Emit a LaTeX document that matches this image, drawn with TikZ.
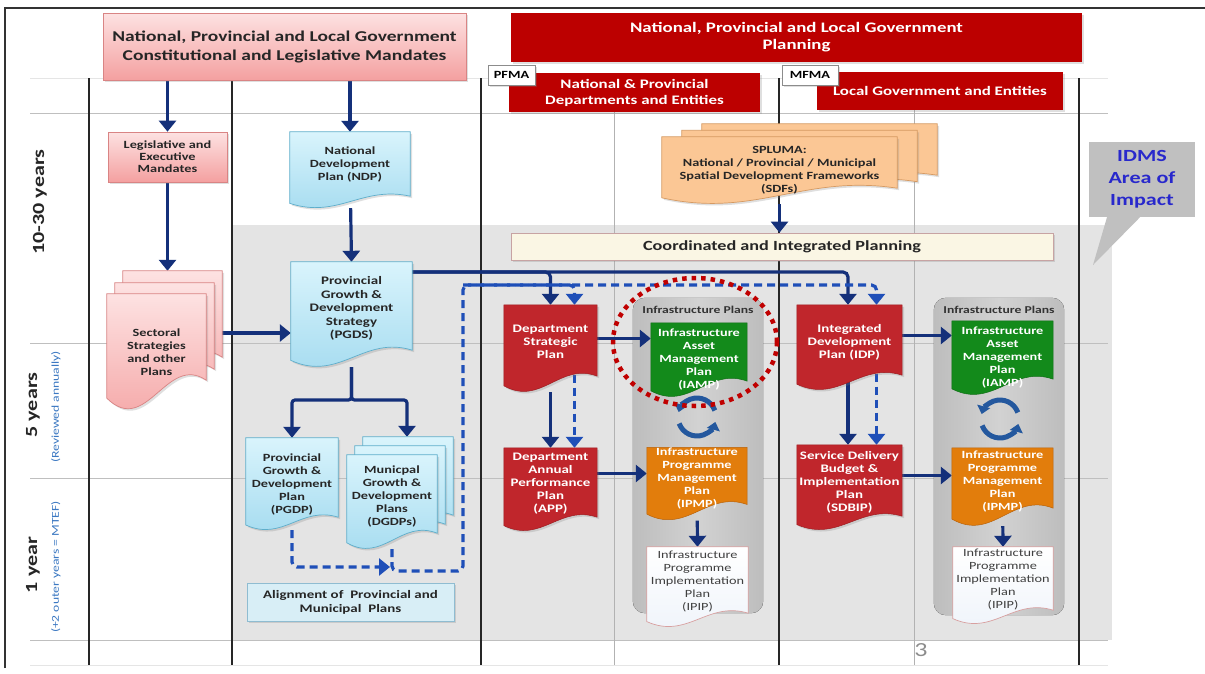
\documentclass[tikz,border=0pt]{standalone}
\usepackage{fontspec}
\setmainfont{Carlito}[FakeStretch=1.3]
\usetikzlibrary{arrows.meta,calc,shadows,shapes.geometric}
\pgfdeclarelayer{back}
\pgfdeclarelayer{mid}
\pgfsetlayers{back,mid,main}
\definecolor{pinkT}{HTML}{FDE2E2}
\definecolor{pinkB}{HTML}{F4A0A0}
\definecolor{pinkD}{HTML}{D98484}
\definecolor{darkred}{HTML}{BC0000}
\definecolor{docred}{HTML}{C0262C}
\definecolor{docredD}{HTML}{9E1C20}
\definecolor{blueT}{HTML}{D9F4FC}
\definecolor{blueB}{HTML}{A2DAEF}
\definecolor{blueD}{HTML}{5EAECB}
\definecolor{sand}{HTML}{FBC795}
\definecolor{sandD}{HTML}{D69A62}
\definecolor{greenD}{HTML}{0F6E15}
\definecolor{greenF}{HTML}{138A1B}
\definecolor{orangeF}{HTML}{E27D0C}
\definecolor{orangeD}{HTML}{B8620A}
\definecolor{ipipF}{HTML}{EEF3FA}
\definecolor{ipipD}{HTML}{D8A0A0}
\definecolor{creamF}{HTML}{FAF6E4}
\definecolor{creamD}{HTML}{C7A3A3}
\definecolor{alignF}{HTML}{D8EEF6}
\definecolor{alignD}{HTML}{8FBCD1}
\definecolor{bggrey}{HTML}{E4E4E4}
\definecolor{panelE}{HTML}{BDBDBD}
\definecolor{panelM}{HTML}{D2D2D2}
\definecolor{navy}{HTML}{14307A}
\definecolor{dblue}{HTML}{1F4FB8}
\definecolor{callgrey}{HTML}{C0C0C0}
\definecolor{idmsblue}{HTML}{2828CC}
\definecolor{subblue}{HTML}{3B78C2}
\definecolor{cycblue}{HTML}{24589E}
\definecolor{hlred}{HTML}{C00000}
\newcommand\fsz[2]{\fontsize{#1}{#2}\selectfont}
% style, name, x1, y1, x2, y2, text
\newcommand\bbnode[7]{\node[#1, minimum width={#5-#3}, minimum height={#6-#4}] (#2) at ({(#3+#5)/2},{(#4+#6)/2}) {#7};}
% same, with the text lifted above the wavy bottom
\newcommand\docnode[7]{\bbnode{#1}{#2}{#3}{#4}{#5}{#6}{#7\\\mbox{}}}
% [offset]{node}{style}{wave depth}
\newcommand\docshape[4][0,0]{%
 \path[#3] let \p1=($(#2.north west)+(#1)$), \p2=($(#2.south east)+(#1)$) in
 (\x1,\y1) -- (\x2,\y1) -- (\x2,{\y2+#4}) .. controls ({\x2-0.4*(\x2-\x1)},{\y2+1.9*#4}) and ({\x1+0.4*(\x2-\x1)},{\y2-0.9*#4}) .. (\x1,{\y2+0.4*#4}) -- cycle;}
\tikzset{
 shd/.style={drop shadow={opacity=0.25, shadow xshift=2pt, shadow yshift=-2pt}},
 pinkbox/.style={top color=pinkT, bottom color=pinkB, draw=pinkD, line width=0.7pt, shd},
 bluedoc/.style={top color=blueT, bottom color=blueB, draw=blueD, line width=0.7pt, shd},
 reddoc/.style={fill=docred, draw=docredD, line width=0.5pt, shd},
 greendoc/.style={fill=greenF, draw=greenD, line width=0.5pt},
 orangedoc/.style={fill=orangeF, draw=orangeD, line width=0.5pt},
 ipipdoc/.style={top color=white, bottom color=ipipF, draw=ipipD, line width=0.7pt},
 sanddoc/.style={fill=sand, draw=sandD, line width=0.7pt, shd},
 redhdr/.style={fill=darkred, text=white, font=\bfseries\fsz{14.5}{17}, shd},
 subhdr/.style={fill=darkred, text=white, font=\bfseries\fsz{13}{16}, shd},
 tag/.style={fill=white, draw=black!45, line width=0.7pt, font=\bfseries\fsz{11}{12}, shd},
 dtxt/.style={font=\bfseries\fsz{11}{13}, text=black!85},
 wtxt/.style={font=\bfseries\fsz{11.5}{13}, text=white},
 itxt/.style={font=\bfseries\fsz{11}{13}, text=white},
 ptxt/.style={font=\fsz{11}{13}, text=black!75},
 arr/.style={draw=navy, line width=3.2pt, -{Triangle[width=17pt,length=11pt]}, rounded corners=5pt},
 darr/.style={draw=dblue, line width=3.2pt, dash pattern=on 8pt off 5pt, -{Triangle[width=17pt,length=11pt]}, rounded corners=5pt},
 cyc/.style={draw=cycblue, line width=5pt, -{Triangle[width=13pt,length=8pt]}},
 gridh/.style={draw=black!25, line width=0.8pt},
 gridv/.style={draw=black!30, line width=0.8pt},
 gridk/.style={draw=black!85, line width=1.6pt},
 ax/.style={font=\bfseries\fsz{17}{17}, text=black!85, rotate=90},
 axs/.style={font=\fsz{10.5}{10.5}, text=subblue, rotate=90}
}
\begin{document}
\begin{tikzpicture}[x=1pt,y=-1pt, every node/.style={inner sep=0pt, align=center}]
\useasboundingbox (0,0) rectangle (1205,673);

% ---------- background, grid, frame ----------
\begin{pgfonlayer}{back}
 \fill[white] (0,0) rectangle (1205,673);
 \fill[bggrey] (232,225) rectangle (1112,640);
 \draw[draw=black!10, line width=0.8pt] (30,78) -- (1108,78);
 \draw[draw=black!10, line width=0.8pt] (30,665) -- (1108,665);
 \foreach \yy in {113,343,478,640} \draw[gridh] (30,\yy) -- (1108,\yy);
 \draw[gridv] (614,112) -- (614,665);
 \draw[gridv] (914,110) -- (914,665);
 \foreach \xx in {89,232,481,779,1079} \draw[gridk] (\xx,78) -- (\xx,665);
 \draw[draw=black!80, line width=1.2pt] (5,668) -- (5,8) -- (1205,8);
\end{pgfonlayer}

% ---------- row labels ----------
\node[ax] (r1) at (40,202) {10-30 years};
\node[ax] (r2) at (33,405) {5 years};
\node[axs] (r2s) at (56,407) {(Reviewed annually)};
\node[ax] (r3) at (33,565) {1 year};
\node[axs] (r3s) at (56,567) {(+2 outer years = MTEF)};

% ---------- headers ----------
\bbnode{pinkbox, font=\bfseries\fsz{15}{19}, text=black!85}{mand}{103}{13}{466}{80}{National, Provincial and Local Government\\Constitutional and Legislative Mandates}
\bbnode{redhdr}{plan}{511}{13}{1082}{62}{National, Provincial and Local Government\\Planning}
\bbnode{subhdr}{nat}{509}{73}{760}{112}{National \& Provincial\\Departments and Entities}
\bbnode{tag}{pfma}{488}{65}{535}{85}{PFMA}
\bbnode{subhdr}{loc}{817}{72}{1063}{110}{Local Government and Entities}
\bbnode{tag}{mfma}{782}{65}{838}{85}{MFMA}

% ---------- rectangular boxes ----------
\bbnode{pinkbox, font=\bfseries\fsz{11}{12}, text=black!85}{leg}{108}{132}{227}{182}{Legislative and\\Executive\\Mandates}
\bbnode{fill=creamF, draw=creamD, line width=0.8pt, shd, font=\bfseries\fsz{14}{16}, text=black!85}{coord}{511}{233}{1053}{260}{Coordinated and Integrated Planning}
\bbnode{fill=alignF, draw=alignD, line width=0.8pt, shd, font=\bfseries\fsz{11.5}{14}, text=black!85}{align}{247}{583}{454}{621}{Alignment of\ \ Provincial and\\Municipal\ \ Plans}

% ---------- document nodes (text) ----------
\bbnode{dtxt}{sect}{107}{294}{206}{410}{Sectoral\\Strategies\\and other\\Plans}
\docnode{dtxt}{ndp}{290}{132}{410}{208}{National\\Development\\Plan (NDP)}
\docnode{dtxt, font=\bfseries\fsz{11.5}{13.5}}{pgds}{291}{262}{412}{367}{Provincial\\Growth \&\\Development\\Strategy\\(PGDS)}
\bbnode{dtxt}{pgdp}{246}{438}{338}{530}{Provincial\\Growth \&\\Development\\Plan\\(PGDP)}
\docnode{dtxt}{dgdp}{347}{455}{437}{549}{Municpal\\Growth \&\\Development\\Plans\\(DGDPs)}
\bbnode{dtxt}{spl}{662}{137}{897}{204}{SPLUMA:\\National / Provincial / Municipal\\Spatial Development Frameworks\\(SDFs)}
\docnode{wtxt}{dsp}{504}{305}{597}{392}{Department\\Strategic\\Plan}
\docnode{wtxt}{app}{504}{448}{597}{531}{Department\\Annual\\Performance\\Plan\\(APP)}
\docnode{wtxt}{idp}{797}{305}{902}{390}{Integrated\\Development\\Plan (IDP)}
\docnode{wtxt}{sdbip}{797}{445}{902}{530}{Service Delivery\\Budget \&\\Implementation\\Plan\\(SDBIP)}

% infrastructure panels
\bbnode{}{panL}{633}{298}{763}{613}{}
\bbnode{}{panR}{934}{298}{1064}{615}{}
\node[font=\bfseries\fsz{10.5}{12}, text=black!80] (ipL) at (698,310) {Infrastructure Plans};
\node[font=\bfseries\fsz{10.5}{12}, text=black!80] (ipR) at (999,310) {Infrastructure Plans};
\bbnode{itxt}{iampL}{651}{323}{747}{397}{Infrastructure\\Asset\\Management\\Plan\\(IAMP)}
\bbnode{itxt}{iampR}{952}{321}{1053}{395}{Infrastructure\\Asset\\Management\\Plan\\(IAMP)}
\docnode{itxt}{ipmpL}{647}{448}{747}{520}{Infrastructure\\Programme\\Management\\Plan\\(IPMP)}
\docnode{itxt}{ipmpR}{952}{448}{1053}{526}{Infrastructure\\Programme\\Management\\Plan\\(IPMP)}
\docnode{ptxt}{ipipL}{647}{547}{748}{627}{Infrastructure\\Programme\\Implementation\\Plan\\(IPIP)}
\docnode{ptxt}{ipipR}{953}{547}{1053}{624}{Infrastructure\\Programme\\Implementation\\Plan\\(IPIP)}

\coordinate (cycL) at (697,417);
\coordinate (cycR) at (1000,419);
\coordinate (dA) at (463,571);
\coordinate (dB) at (463,285);
\coordinate (idmstip) at (1093,265);

% ---------- shapes, connectors (under the text) ----------
\begin{pgfonlayer}{mid}
 \fill[left color=panelE, right color=panelE, middle color=panelM, rounded corners=12pt] (panL.north west) rectangle (panL.south east);
 \fill[left color=panelE, right color=panelE, middle color=panelM, rounded corners=12pt] (panR.north west) rectangle (panR.south east);

 % connectors
 \draw[arr] (mand.south -| leg.north) -- (leg.north);
 \draw[arr] (mand.south -| ndp.north) -- (ndp.north);
 \draw[arr] (leg) -- ([yshift=23pt]leg |- sect.north);
 \draw[arr] ([yshift=19pt]sect.center) -- ([yshift=19pt]sect.center -| pgds.west);
 \draw[arr] (ndp) -- (pgds.north);
 \draw[arr, rounded corners=3pt] (pgds) -- (pgds |- 0,400) -| (pgdp.north);
 \draw[arr, rounded corners=3pt] (pgds) -- (pgds |- 0,400) -| ([xshift=15pt,yshift=18pt]dgdp.north);
 \draw[arr] (pgds.east |- 0,272) -| (dsp.north);
 \draw[arr] (pgds.east |- 0,272) -| ([xshift=-1.5pt]idp.north);
 \draw[darr] (dgdp) |- (dA) -- (dB) -| ([xshift=27pt]idp.north);
 \draw[darr] (dB) -| ([xshift=24pt]dsp.north);
 \draw[darr] (pgdp) |- ([xshift=-2pt,yshift=4pt]dgdp |- dA);
 \draw[arr] (spl) -- (coord.north -| spl);
 \draw[arr] (dsp) -- (app.north);
 \draw[darr] ([xshift=24pt]dsp.center) -- ([xshift=24pt]app.north);
 \draw[arr] ([xshift=-1.5pt]idp.center) -- ([xshift=-1.5pt]sdbip.north);
 \draw[darr] ([xshift=27pt]idp.center) -- ([xshift=27pt]sdbip.north);
 \draw[arr] ([yshift=10pt]dsp.center) -- ([yshift=10pt]dsp.center -| iampL.west);
 \draw[arr] ([yshift=16pt]app.center) -- ([yshift=16pt]app.center -| ipmpL.west);
 \draw[arr] ([yshift=12pt]idp.center) -- ([yshift=12pt]idp.center -| iampR.west);
 \draw[arr] ([yshift=12pt]sdbip.center) -- ([yshift=12pt]sdbip.center -| ipmpR.west);
 \draw[arr] (ipmpL) -- (ipipL.north);
 \draw[arr] (ipmpR) -- (ipipR.north);

 % document shapes
 \docshape[16,-23]{sect}{pinkbox}{30pt}
 \docshape[8,-11]{sect}{pinkbox}{30pt}
 \docshape{sect}{pinkbox}{30pt}
 \docshape{ndp}{bluedoc}{12pt}
 \docshape{pgds}{bluedoc}{17pt}
 \docshape{pgdp}{bluedoc}{13pt}
 \docshape[16,-18]{dgdp}{bluedoc}{16pt}
 \docshape[8,-9]{dgdp}{bluedoc}{16pt}
 \docshape{dgdp}{bluedoc}{16pt}
 \docshape[40,-13]{spl}{sanddoc}{16pt}
 \docshape[20,-6.5]{spl}{sanddoc}{16pt}
 \docshape{spl}{sanddoc}{16pt}
 \docshape{dsp}{reddoc}{16pt}
 \docshape{app}{reddoc}{14pt}
 \docshape{idp}{reddoc}{15pt}
 \docshape{sdbip}{reddoc}{14pt}
 \docshape{iampL}{greendoc}{16pt}
 \docshape{iampR}{greendoc}{16pt}
 \docshape{ipmpL}{orangedoc}{16pt}
 \docshape{ipmpR}{orangedoc}{18pt}
 \docshape{ipipL}{ipipdoc}{14pt}
 \docshape{ipipR}{ipipdoc}{14pt}

 % refresh cycles
 \draw[cyc] (cycL) ++(340:19) arc (340:195:19);
 \draw[cyc] (cycL) ++(160:19) arc (160:15:19);
 \draw[cyc] (cycR) ++(340:19) arc (340:195:19);
 \draw[cyc] (cycR) ++(160:19) arc (160:15:19);
\end{pgfonlayer}

% ---------- IDMS callout ----------
\bbnode{fill=callgrey, font=\bfseries\fsz{17}{22}, text=idmsblue}{idms}{1089}{142}{1195}{217}{IDMS\\Area of\\Impact}
\fill[callgrey] ([xshift=-35pt]idms.south) -- ([xshift=-2pt]idms.south) -- (idmstip) -- cycle;

% ---------- highlight ring ----------
\node[ellipse, draw=hlred, line width=4.5pt, dash pattern=on 4.5pt off 5pt, minimum width=164, minimum height=128] (hl) at (695,342) {};

% ---------- page number ----------
\node[font=\fsz{20}{20}, text=black!45] (pg) at (921,650) {3};
\end{tikzpicture}
\end{document}
